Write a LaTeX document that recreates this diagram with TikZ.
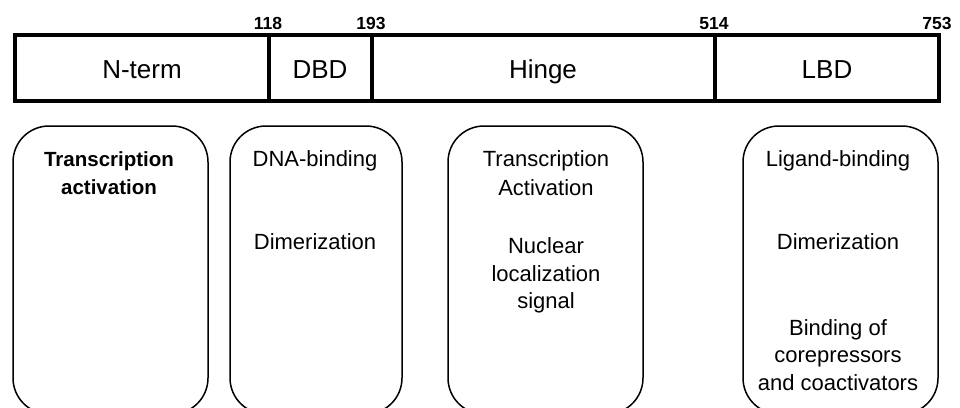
\documentclass[tikz,border=0pt]{standalone}
\usepackage{fontspec}
\setmainfont{Liberation Sans}
\begin{document}
\begin{tikzpicture}[x=1pt,y=-1pt,
  seg/.style={draw, line width=3.2pt, minimum height=66pt, inner sep=0pt},
  seglab/.style={anchor=base, inner sep=0pt, font=\fontsize{26}{30}\selectfont},
  num/.style={anchor=base, inner sep=0pt, font=\bfseries\fontsize{17.5}{20}\selectfont},
  fnbox/.style={draw, line width=1.5pt, rounded corners=36pt, minimum height=288pt, inner sep=0pt},
  ftxt/.style={anchor=base, inner sep=0pt, font=\fontsize{22}{26}\selectfont},
  ftxtb/.style={anchor=base, inner sep=0pt, font=\bfseries\fontsize{20.5}{24}\selectfont}]
\path[use as bounding box, clip] (0,0) rectangle (960,407);
% domain bar
\node[seg, minimum width=254pt] (nterm) at (142,68) {};
\node[seg, minimum width=103pt] (dbd) at (320.5,68) {};
\node[seg, minimum width=343pt] (hinge) at (543.5,68) {};
\node[seg, minimum width=224pt] (lbd) at (827,68) {};
\node[seglab] (lnterm) at (142,78) {N-term};
\node[seglab] (ldbd) at (320,78) {DBD};
\node[seglab] (lhinge) at (543,78) {Hinge};
\node[seglab] (llbd) at (827,78) {LBD};
% residue numbers
\node[num] (n118) at (268,29) {118};
\node[num] (n193) at (371,29) {193};
\node[num] (n514) at (714,29) {514};
\node[num] (n753) at (937,29) {753};
% function boxes
\node[fnbox, minimum width=195pt] (b1) at (110.5,270) {};
\node[fnbox, minimum width=172pt] (b2) at (316,270) {};
\node[fnbox, minimum width=195pt] (b3) at (545.5,270) {};
\node[fnbox, minimum width=195pt] (b4) at (840.5,270) {};
% box texts
\node[ftxtb] (t1a) at (109,166) {Transcription};
\node[ftxtb] (t1b) at (109,194) {activation};
\node[ftxt] (t2a) at (315,166) {DNA-binding};
\node[ftxt] (t2b) at (315,249) {Dimerization};
\node[ftxt] (t3a) at (546,166) {Transcription};
\node[ftxt] (t3b) at (546,195) {Activation};
\node[ftxt] (t3c) at (546,253) {Nuclear};
\node[ftxt] (t3d) at (546,281) {localization};
\node[ftxt] (t3e) at (546,308) {signal};
\node[ftxt] (t4a) at (838,166) {Ligand-binding};
\node[ftxt] (t4b) at (838,249) {Dimerization};
\node[ftxt] (t4c) at (838,335) {Binding of};
\node[ftxt] (t4d) at (838,362) {corepressors};
\node[ftxt] (t4e) at (838,390) {and coactivators};
\end{tikzpicture}
\end{document}
